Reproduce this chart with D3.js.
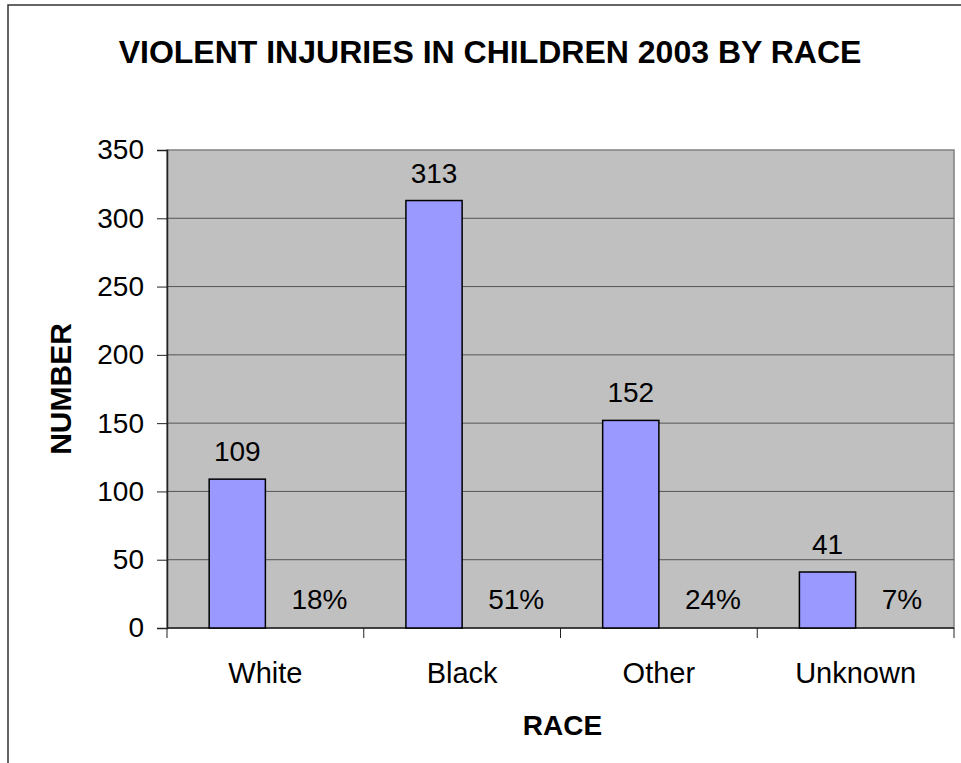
<!DOCTYPE html>
<html>
<head>
<meta charset="utf-8">
<script src="https://cdn.jsdelivr.net/npm/d3@7"></script>
<style>
  html, body { margin: 0; padding: 0; background: #fff; }
  svg { display: block; font-family: "Liberation Sans", Arial, sans-serif; }
</style>
</head>
<body>
<svg id="chart" width="961" height="763"></svg>
<script>
// Violent injuries in children, 2003, by race
const categories = ["White", "Black", "Other", "Unknown"];
const counts = [109, 313, 152, 41];
const percentLabels = ["18%", "51%", "24%", "7%"];
const yTicks = [0, 50, 100, 150, 200, 250, 300, 350];

const svg = d3.select("#chart");
const W = 961, H = 763;
const plot = { left: 167, right: 954, top: 150, bottom: 628 };

// outer frame
svg.append("rect")
  .attr("x", 8).attr("y", 5).attr("width", W + 10).attr("height", H + 10)
  .attr("fill", "#fff").attr("stroke", "#333").attr("stroke-width", 1.5);

// title
svg.append("text")
  .attr("x", 490).attr("y", 63)
  .attr("text-anchor", "middle")
  .attr("font-weight", "bold").attr("font-size", 32)
  .text("VIOLENT INJURIES IN CHILDREN 2003 BY RACE");

const x0 = d3.scaleBand().domain(categories).range([plot.left, plot.right]).padding(0);
const x1 = d3.scaleBand().domain(["count", "pct"]).range([0, x0.bandwidth()])
  .paddingInner(0).paddingOuter(0.75);
const y = d3.scaleLinear().domain([0, 350]).range([plot.bottom, plot.top]);

// plot area
svg.append("rect")
  .attr("x", plot.left).attr("y", plot.top)
  .attr("width", plot.right - plot.left).attr("height", plot.bottom - plot.top)
  .attr("fill", "#c0c0c0").attr("stroke", "#808080").attr("stroke-width", 1.5);

// gridlines
svg.append("g").selectAll("line")
  .data(yTicks.filter(d => d > 0 && d < 350))
  .join("line")
  .attr("x1", plot.left).attr("x2", plot.right)
  .attr("y1", d => y(d)).attr("y2", d => y(d))
  .attr("stroke", "#555").attr("stroke-width", 1);

// y axis
const yAxis = svg.append("g")
  .attr("transform", `translate(${plot.left},0)`)
  .call(d3.axisLeft(y).tickValues(yTicks).tickSize(10).tickPadding(13));
yAxis.select(".domain").attr("stroke", "#222").attr("stroke-width", 1.5);
yAxis.selectAll(".tick line").attr("stroke", "#222");
yAxis.selectAll("text").attr("font-size", 28).attr("fill", "#000")
  .attr("font-family", "Liberation Sans, Arial, sans-serif");

// x axis with ticks at category boundaries
const xAxis = svg.append("g").attr("transform", `translate(0,${plot.bottom})`);
xAxis.append("line")
  .attr("x1", plot.left).attr("x2", plot.right)
  .attr("stroke", "#222").attr("stroke-width", 1.5);
const boundaries = categories.map(c => x0(c)).concat([plot.right]);
xAxis.selectAll("line.tk").data(boundaries).join("line").attr("class", "tk")
  .attr("x1", d => d).attr("x2", d => d).attr("y1", 0).attr("y2", 10)
  .attr("stroke", "#222");
xAxis.selectAll("text").data(categories).join("text")
  .attr("x", d => x0(d) + x0.bandwidth() / 2).attr("y", 55)
  .attr("text-anchor", "middle").attr("font-size", 29)
  .text(d => d);

// bars
svg.append("g").selectAll("rect")
  .data(categories.map((c, i) => ({ c, v: counts[i] })))
  .join("rect")
  .attr("x", d => x0(d.c) + x1("count"))
  .attr("y", d => y(d.v))
  .attr("width", x1.bandwidth())
  .attr("height", d => y(0) - y(d.v))
  .attr("fill", "#9999ff").attr("stroke", "#000").attr("stroke-width", 1.5);

// value labels
svg.append("g").selectAll("text")
  .data(categories.map((c, i) => ({ c, v: counts[i] })))
  .join("text")
  .attr("x", d => x0(d.c) + x1("count") + x1.bandwidth() / 2)
  .attr("y", d => y(d.v) - 18)
  .attr("text-anchor", "middle").attr("font-size", 28)
  .text(d => d.v);

// percentage labels
svg.append("g").selectAll("text")
  .data(categories.map((c, i) => ({ c, p: percentLabels[i] })))
  .join("text")
  .attr("x", d => x0(d.c) + x1("pct") + 26)
  .attr("y", y(0) - 19)
  .attr("font-size", 28)
  .text(d => d.p);

// axis titles
svg.append("text")
  .attr("transform", `translate(71,${(plot.top + plot.bottom) / 2}) rotate(-90)`)
  .attr("text-anchor", "middle").attr("font-weight", "bold").attr("font-size", 30)
  .text("NUMBER");
svg.append("text")
  .attr("x", (plot.left + plot.right) / 2 + 2).attr("y", 735)
  .attr("text-anchor", "middle").attr("font-weight", "bold").attr("font-size", 28)
  .text("RACE");
</script>
</body>
</html>
